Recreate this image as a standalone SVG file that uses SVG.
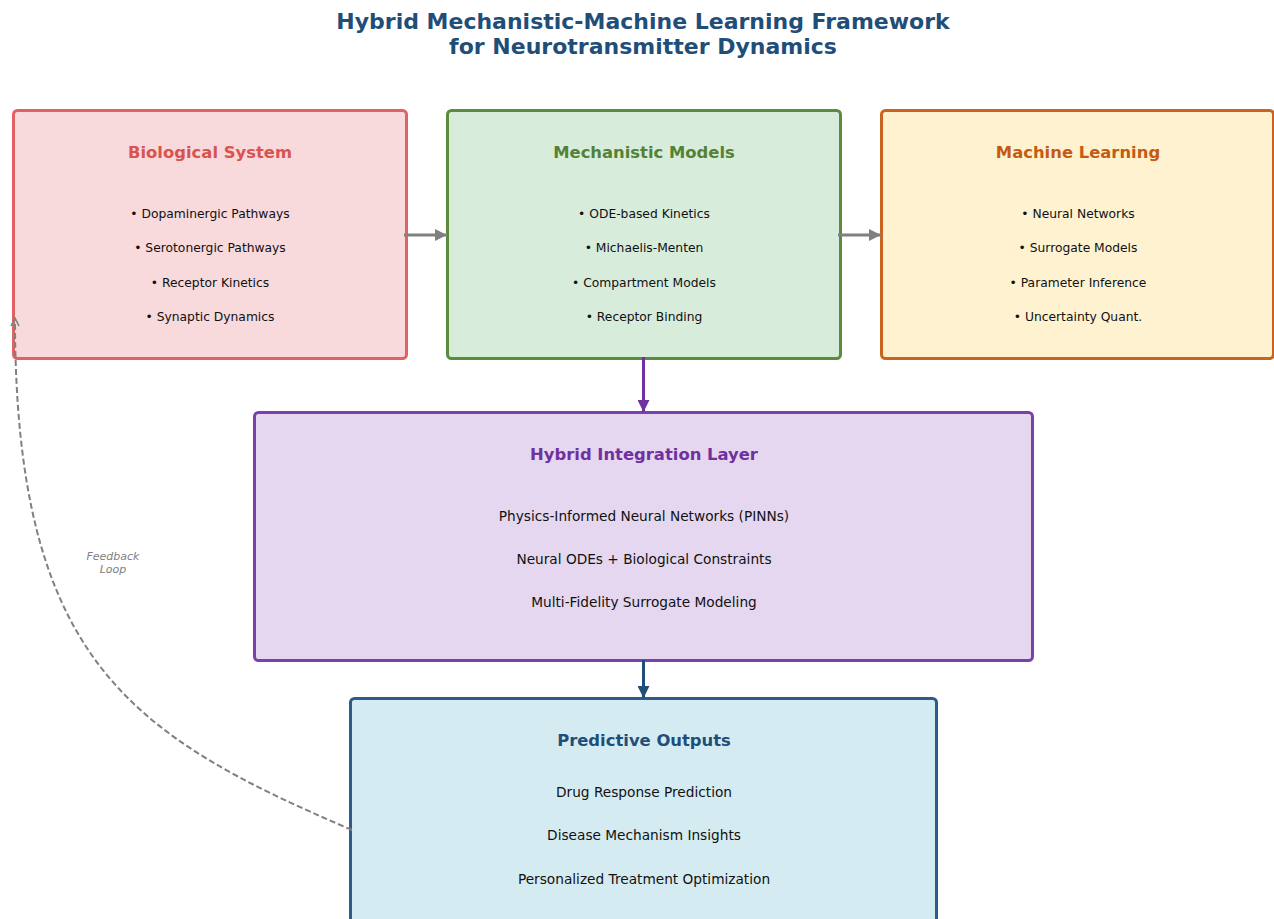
<svg xmlns="http://www.w3.org/2000/svg" width="1274" height="919" viewBox="0 0 1274 919">
<style>
text{font-family:"DejaVu Sans","Liberation Sans",sans-serif;text-anchor:middle;dominant-baseline:central}
.title{font-size:22px;font-weight:bold;fill:#1f4e79}
.nt{font-size:16.4px;font-weight:bold}
.b{font-size:12.3px;fill:#111}
.h{font-size:13.7px;fill:#111}
.box{stroke-width:3}
.fb{font-size:11px;font-style:italic;fill:#808080}
</style>
<defs>
<marker id="ag" viewBox="0 0 10 10" refX="10" refY="5" markerWidth="4" markerHeight="4" orient="auto" markerUnits="strokeWidth"><path d="M0,0L10,5L0,10z" fill="#808080"/></marker>
<marker id="ap" viewBox="0 0 10 10" refX="10" refY="5" markerWidth="4" markerHeight="4" orient="auto" markerUnits="strokeWidth"><path d="M0,0L10,5L0,10z" fill="#7030a0"/></marker>
<marker id="ab" viewBox="0 0 10 10" refX="10" refY="5" markerWidth="4" markerHeight="4" orient="auto" markerUnits="strokeWidth"><path d="M0,0L10,5L0,10z" fill="#1f4e79"/></marker>
<marker id="ao" viewBox="0 0 10 10" refX="9" refY="5" markerWidth="5" markerHeight="5" orient="auto" markerUnits="strokeWidth"><path d="M1,1L9,5L1,9" fill="none" stroke="#808080" stroke-width="1.6"/></marker>
</defs>
<rect width="1274" height="919" fill="#ffffff"/>
<text class="title" x="643" y="21">Hybrid Mechanistic-Machine Learning Framework</text>
<text class="title" x="643" y="46">for Neurotransmitter Dynamics</text>

<g id="bio">
<rect class="box" x="13.5" y="110.5" width="393" height="248" rx="4" fill="#f8d9dc" stroke="#e06262"/>
<text class="nt" x="210" y="152" fill="#d9534f">Biological System</text>
<text class="b" x="210" y="214">• Dopaminergic Pathways</text>
<text class="b" x="210" y="248">• Serotonergic Pathways</text>
<text class="b" x="210" y="283">• Receptor Kinetics</text>
<text class="b" x="210" y="317">• Synaptic Dynamics</text>
</g>
<g id="mech">
<rect class="box" x="447.5" y="110.5" width="393" height="248" rx="4" fill="#d8ecdc" stroke="#5b8c3e"/>
<text class="nt" x="644" y="152" fill="#538135">Mechanistic Models</text>
<text class="b" x="644" y="214">• ODE-based Kinetics</text>
<text class="b" x="644" y="248">• Michaelis-Menten</text>
<text class="b" x="644" y="283">• Compartment Models</text>
<text class="b" x="644" y="317">• Receptor Binding</text>
</g>
<g id="ml">
<rect class="box" x="881.5" y="110.5" width="392" height="248" rx="4" fill="#fef2d1" stroke="#c8641e"/>
<text class="nt" x="1078" y="152" fill="#c55a11">Machine Learning</text>
<text class="b" x="1078" y="214">• Neural Networks</text>
<text class="b" x="1078" y="248">• Surrogate Models</text>
<text class="b" x="1078" y="283">• Parameter Inference</text>
<text class="b" x="1078" y="317">• Uncertainty Quant.</text>
</g>
<g id="hybrid">
<rect class="box" x="254.5" y="412.5" width="778" height="248" rx="4" fill="#e4d7ef" stroke="#7d40aa"/>
<text class="nt" x="644" y="454" fill="#7030a0">Hybrid Integration Layer</text>
<text class="h" x="644" y="516">Physics-Informed Neural Networks (PINNs)</text>
<text class="h" x="644" y="559">Neural ODEs + Biological Constraints</text>
<text class="h" x="644" y="602">Multi-Fidelity Surrogate Modeling</text>
</g>
<g id="pred">
<rect class="box" x="350.5" y="698.5" width="586" height="250" rx="4" fill="#d5ebf2" stroke="#2e5c8a"/>
<text class="nt" x="644" y="740" fill="#1f4e79">Predictive Outputs</text>
<text class="h" x="644" y="792">Drug Response Prediction</text>
<text class="h" x="644" y="835">Disease Mechanism Insights</text>
<text class="h" x="644" y="879">Personalized Treatment Optimization</text>
</g>
<g id="connectors" fill="none">
<line x1="404" y1="235" x2="447" y2="235" stroke="#808080" stroke-width="3" marker-end="url(#ag)"/>
<line x1="838" y1="235" x2="881" y2="235" stroke="#808080" stroke-width="3" marker-end="url(#ag)"/>
<line x1="643.5" y1="357" x2="643.5" y2="412" stroke="#7030a0" stroke-width="3" marker-end="url(#ap)"/>
<line x1="643.5" y1="660" x2="643.5" y2="698" stroke="#1f4e79" stroke-width="3" marker-end="url(#ab)"/>
<path d="M352,830 C130,735 15,660 15,318" stroke="#808080" stroke-width="2" stroke-dasharray="6,3" marker-end="url(#ao)"/>
<text class="fb" x="113" y="556">Feedback</text>
<text class="fb" x="113" y="569">Loop</text>
</g>
</svg>
